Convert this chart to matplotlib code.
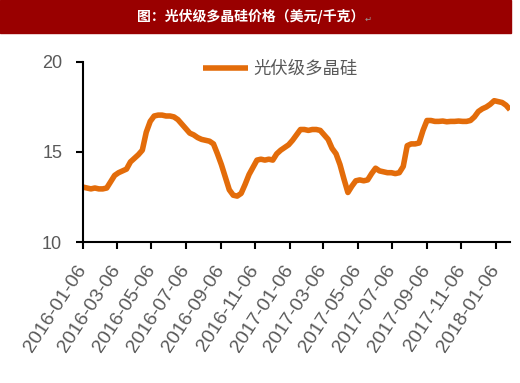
import numpy as np
import pandas as pd
import matplotlib
matplotlib.use("Agg")
import matplotlib.pyplot as plt
from matplotlib.patches import Rectangle

plt.rcParams['font.family'] = ['Noto Sans CJK SC', 'DejaVu Sans']

title = "图：光伏级多晶硅价格（美元/千克）"
series_name = "光伏级多晶硅"

# weekly prices (USD/kg), starting 2016-01-06
start_date = "2016-01-06"
prices = [
    13.05, 13.0, 12.95, 13.0, 12.95, 12.95, 13.0, 13.35, 13.7, 13.85,
    13.95, 14.05, 14.45, 14.65, 14.85, 15.1, 16.1, 16.7, 17.0, 17.05,
    17.05, 17.0, 17.0, 16.95, 16.8, 16.55, 16.3, 16.05, 15.95, 15.8,
    15.7, 15.65, 15.6, 15.45, 14.9, 14.3, 13.6, 12.9, 12.6, 12.55,
    12.7, 13.2, 13.75, 14.15, 14.55, 14.6, 14.55, 14.6, 14.55, 14.9,
    15.1, 15.25, 15.4, 15.65, 15.95, 16.25, 16.25, 16.2, 16.25, 16.25,
    16.2, 15.95, 15.7, 15.2, 14.9, 14.3, 13.5, 12.75, 13.1, 13.4,
    13.45, 13.4, 13.45, 13.8, 14.1, 13.95, 13.9, 13.85, 13.85, 13.8,
    13.85, 14.2, 15.35, 15.45, 15.45, 15.5, 16.2, 16.75, 16.75, 16.7,
    16.7, 16.72, 16.68, 16.7, 16.7, 16.72, 16.7, 16.7, 16.75, 16.95,
    17.25, 17.4, 17.5, 17.65, 17.85, 17.8, 17.75, 17.6, 17.35,
]
tick_labels = [
    "2016-01-06", "2016-03-06", "2016-05-06", "2016-07-06", "2016-09-06",
    "2016-11-06", "2017-01-06", "2017-03-06", "2017-05-06", "2017-07-06",
    "2017-09-06", "2017-11-06", "2018-01-06",
]
y_ticks = [10, 15, 20]

dates = pd.date_range(start_date, periods=len(prices), freq="7D")

fig = plt.figure(figsize=(5.2, 3.83), dpi=100)

# title banner
fig.patches.append(Rectangle((0, 1 - 33 / 383), 511 / 520, 33 / 383,
                             transform=fig.transFigure, color="#990000", zorder=0))
fig.text(0.483, 1 - 16 / 383, title, color="white", fontsize=10, fontweight="bold",
         ha="center", va="center")
fig.text(0.708, 1 - 19 / 383, "↵", color="#999999", fontsize=6,
         ha="center", va="center", family=["DejaVu Sans"])

ax = fig.add_axes([83 / 520, 1 - 242 / 383, 427 / 520, 180 / 383])
ax.plot(dates, prices, color="#E36C0A", lw=4, label=series_name,
        solid_joinstyle="round", solid_capstyle="butt")

ax.set_xlim(dates[0], dates[-1])
ax.set_ylim(10, 20)
ax.set_yticks(y_ticks)
ax.set_xticks(pd.to_datetime(tick_labels))
ax.set_xticklabels(tick_labels, rotation=57, ha="right", va="center",
                   rotation_mode="anchor", family=["Liberation Sans"], fontsize=14)
for lab in ax.get_yticklabels():
    lab.set_family(["Liberation Sans"])
    lab.set_fontsize(13)

ax.tick_params(axis="both", colors="black", labelcolor="#595959",
               length=5, width=1.5, direction="out")
ax.tick_params(axis="x", pad=13)
ax.tick_params(axis="y", pad=10)
for s in ["top", "right"]:
    ax.spines[s].set_visible(False)
for s in ["left", "bottom"]:
    ax.spines[s].set_linewidth(1.5)

leg = ax.legend(loc="upper left", bbox_to_anchor=(0.26, 1.06), frameon=False,
                handlelength=2.6, handletextpad=0.3, fontsize=12.5, borderpad=0)
for t in leg.get_texts():
    t.set_color("#595959")

fig.savefig("out.png", dpi=100)
